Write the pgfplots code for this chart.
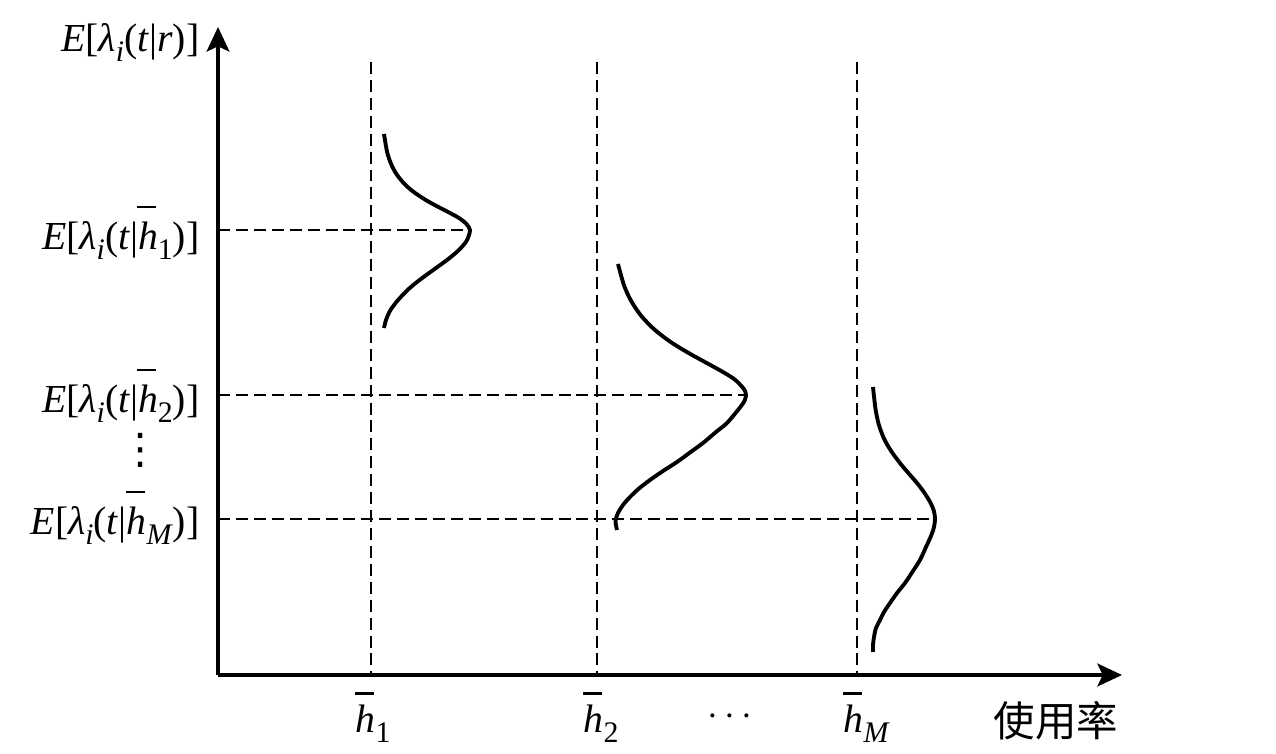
\documentclass[border=0pt]{standalone}
\usepackage{pgfplots}
\pgfplotsset{compat=1.18}
\usepackage{fontspec}
\setmainfont{Liberation Serif}
\newfontfamily\cjk{Noto Sans CJK SC}
\newfontfamily\dejavu{DejaVu Sans}
\usetikzlibrary{arrows.meta}
\newcommand{\sub}[1]{\raisebox{-0.5ex}{\fontsize{8.5}{9}\selectfont #1}}
\newcommand{\hb}[1][0.95em]{\leavevmode\rlap{\hspace{-0.02em}\raisebox{#1}{\rule{0.47em}{0.07em}}}\textit{h}}
\newcommand{\lab}[1]{\textit{E}[\textit{λ}\sub{\textit{i}}(\textit{t}|#1)]}
\begin{document}
\begin{tikzpicture}
\begin{axis}[
  width=12.76cm, height=7.54cm, scale only axis,
  xmin=0, xmax=1276, ymin=0, ymax=754, y dir=reverse,
  hide axis, clip=false,
  every axis plot/.append style={black},
]
\path (rel axis cs:0,0) rectangle (rel axis cs:1,1);
% dashed guide lines
\pgfplotsset{guide/.style={line width=0.7pt, dash pattern=on 3.4pt off 1.7pt}}
\addplot[guide] coordinates {(371,62) (371,675)};
\addplot[guide] coordinates {(597,62) (597,675)};
\addplot[guide] coordinates {(857,62) (857,675)};
\addplot[guide] coordinates {(218,230) (470,230)};
\addplot[guide] coordinates {(218,395) (746,395)};
\addplot[guide] coordinates {(218,519) (935,519)};
% curves
\addplot[line width=1.1pt, smooth, tension=0.5] coordinates {
(384.0,134) (387.1,152) (391.1,164) (396.4,174) (404.5,184) (413.7,192) (425.7,200)
(436.5,206) (448.1,212) (459.0,218) (466.5,224) (470,230)
(468.7,236) (465.9,242) (458.9,250) (449.6,258) (438.8,266) (427.7,274) (417.0,282)
(407.6,290) (398.1,300) (390.5,310) (386.0,320) (384.0,328)};
\addplot[line width=1.1pt, smooth, tension=0.5] coordinates {
(618.0,264) (623.9,285) (630.6,300) (640.5,315) (653.8,329) (669.2,341) (685.1,351)
(703.0,361) (721.2,371) (734.1,379) (742.3,387) (745.3,391.5) (746,395) (745.2,399)
(743.3,403) (738,410) (727,423) (716,432) (703,443) (690,452.5) (677,462)
(663,471) (650,480) (639,488.5) (630,497) (623,505) (618,513) (615.5,521) (617,530)};
\addplot[line width=1.1pt, smooth, tension=0.5] coordinates {
(873.0,387) (875.5,409) (878.9,425) (884.2,439) (891.1,451) (899.9,463) (908.3,473)
(917.0,483) (924.5,493) (930.6,503) (933.9,511) (935,519)
(934,527) (931,536) (926,547) (920,560) (913,571) (905,583) (897,593) (890,603)
(884,612) (880,620) (876,628) (874,637) (873,645) (873,652)};
% axes
\draw[line width=0.9pt,-{Stealth[length=7pt,width=6.5pt,inset=1.5pt]}] (axis cs:218,675) -- (axis cs:218,27);
\draw[line width=0.9pt,-{Stealth[length=7pt,width=6.5pt,inset=1.5pt]}] (axis cs:218,675) -- (axis cs:1122,675);
% labels
\begin{scope}[every node/.style={font=\fontsize{11.3}{14}\selectfont, inner sep=0pt}]
\node[anchor=base east] at (axis cs:200,52) {\lab{\textit{r}}};
\node[anchor=base east] at (axis cs:200,250) {\lab{\hb[1.05em]\sub{1}}};
\node[anchor=base east] at (axis cs:200,413) {\lab{\hb[1.05em]\sub{2}}};
\node[anchor=base east] at (axis cs:200,535) {\lab{\hb[1.05em]\sub{\textit{M}}}};
\node[font=\dejavu\fontsize{12}{14}\selectfont] at (axis cs:141,450) {⋮};
\node[anchor=base west] at (axis cs:355,733) {\hb\sub{1}};
\node[anchor=base west] at (axis cs:583,733) {\hb\sub{2}};
\node[anchor=base west] at (axis cs:843,733) {\hb\sub{\textit{M}}};
\node at (axis cs:730,717) {$\cdots$};
\node[anchor=base west, font=\cjk\fontsize{11.8}{14}\selectfont] at (axis cs:993,736) {使用率};
\end{scope}
\end{axis}
\end{tikzpicture}
\end{document}
